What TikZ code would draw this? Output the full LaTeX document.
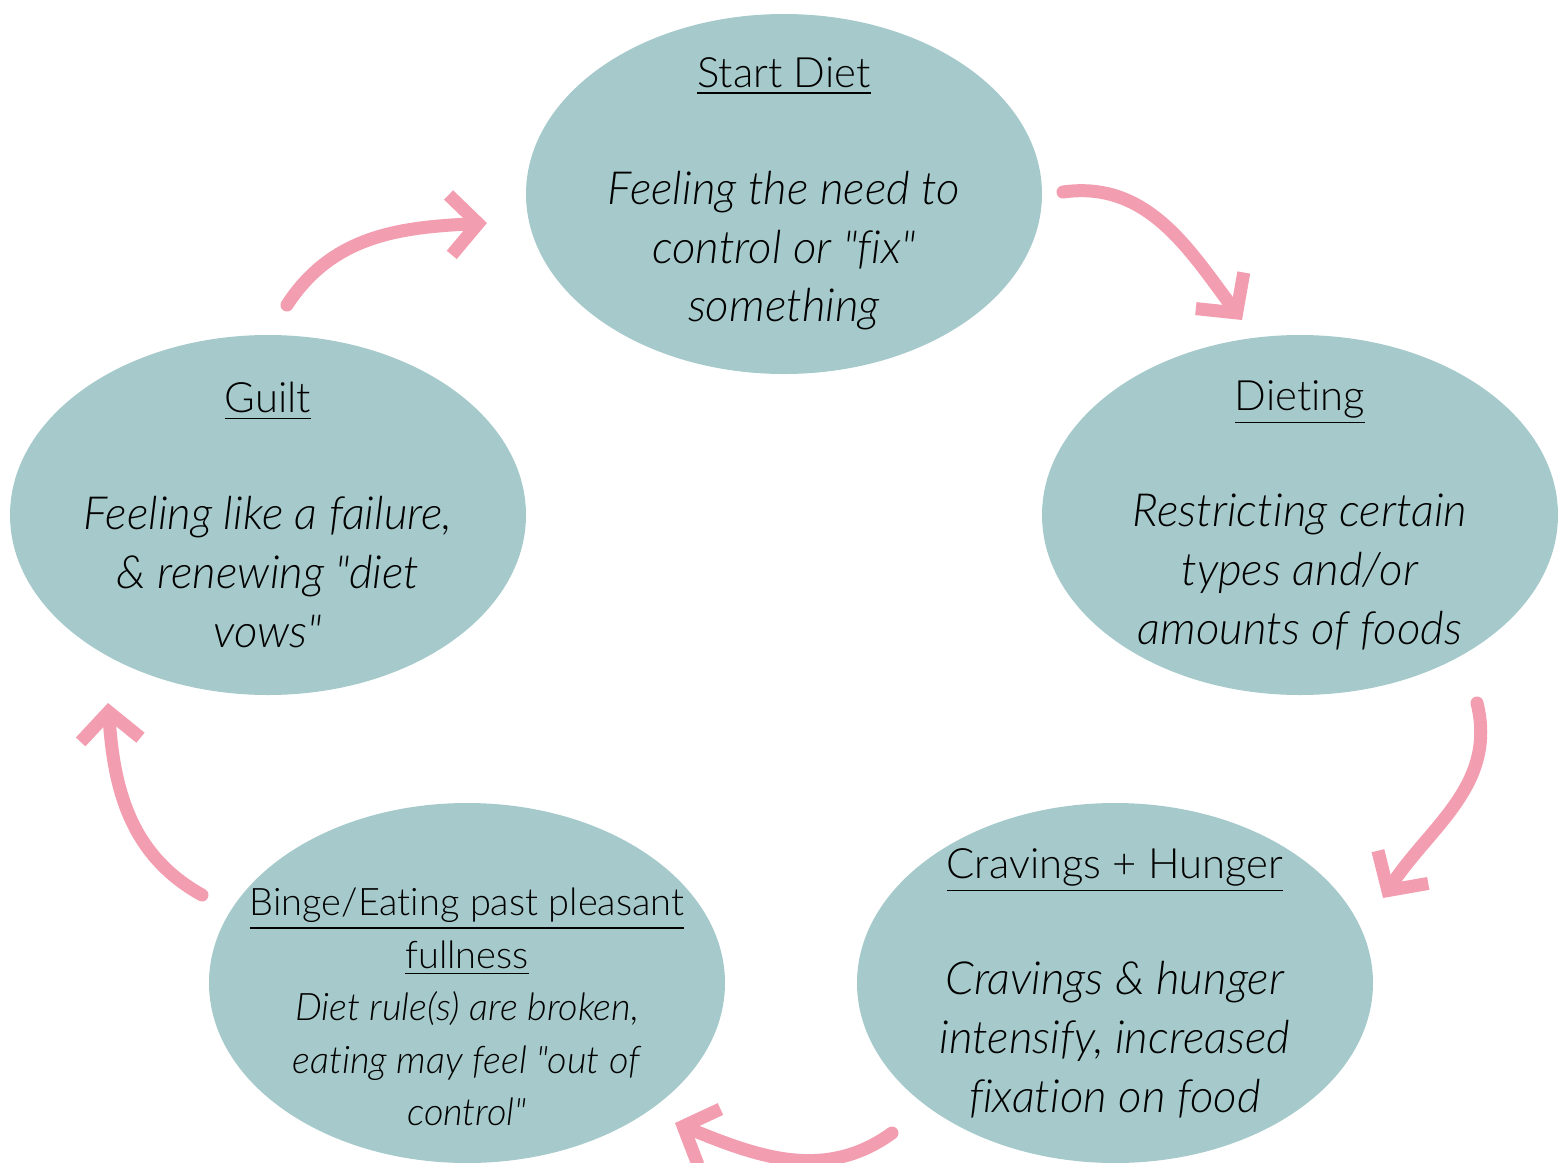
\documentclass[tikz,border=0pt]{standalone}
\usepackage{fontspec}
\setmainfont{Lato}[UprightFont=* Light, ItalicFont=* Light Italic, Ligatures={TeXOff,NoCommon}]
\usetikzlibrary{shapes.geometric,arrows.meta}
\definecolor{stagefill}{HTML}{A6CACB}
\definecolor{cyclepink}{HTML}{F29DB0}
\newcommand{\headfont}{\fontsize{11.9}{16.7}\selectfont}
\begin{document}
\begin{tikzpicture}[>=latex,
    stage/.style={ellipse, fill=stagefill, minimum width=5.16cm, minimum height=3.6cm, inner sep=0pt, outer sep=0pt},
    stagetext/.style={align=center, font=\fontsize{13}{16.7}\selectfont},
    bingetext/.style={align=center, font=\fontsize{10.8}{14.9}\selectfont},
    flow/.style={draw=cyclepink, line width=1.3mm, line cap=round, -{Straight Barb[length=2.8mm,width=6mm]}}]

            % Rahmen
            \useasboundingbox (0,0) rectangle (15.64,-11.63);

            % Ellipsen
            \node[stage] (start) at (7.84,-1.94) {};
            \node[stage] (diet) at (13.00,-5.15) {};
            \node[stage] (crave) at (11.15,-9.83) {};
            \node[stage] (binge) at (4.67,-9.83) {};
            \node[stage] (guilt) at (2.68,-5.15) {};

            % Texte
            \node[stagetext] (startt) at (start.center)
            {{\headfont\underline{Start Diet}}\\[0.58cm] \textit{Feeling the need to}\\ \textit{control or "fix"}\\ \textit{something}};
            \node[stagetext] (dietdt) at (diet.center)
            {{\headfont\underline{Dieting}}\\[0.58cm] \textit{Restricting certain}\\ \textit{types and/or}\\ \textit{amounts of foods}};
            \node[stagetext] (cravet) at (crave.center)
            {{\headfont\underline{Cravings + Hunger}}\\[0.58cm] \textit{Cravings \& hunger}\\ \textit{intensify, increased}\\ \textit{fixation on food}};
            \node[bingetext] (binget) at ([yshift=-0.24cm]binge.center)
            {\underline{Binge/Eating past pleasant}\\ \underline{fullness}\\ \textit{Diet rule(s) are broken,}\\ \textit{eating may feel "out of}\\ \textit{control"}};
            \node[stagetext] (guiltt) at (guilt.center)
            {{\headfont\underline{Guilt}}\\[0.58cm] \textit{Feeling like a failure,}\\ \textit{\& renewing "diet}\\ \textit{vows"}};

            % Pfeile im Kreis
            \draw[flow] ([shift={(2.79,0.02)}]start.center) to[out=8,in=127] ([shift={(-0.58,1.95)}]diet.center);
            \draw[flow] ([shift={(1.77,-1.88)}]diet.center) to[out=-76,in=57] ([shift={(2.68,0.85)}]crave.center);
            \draw[flow] ([shift={(-2.23,-1.50)}]crave.center) to[out=216,in=-22] ([shift={(2.08,-1.40)}]binge.center);
            \draw[flow] ([shift={(-2.65,0.88)}]binge.center) to[out=151,in=-86] ([shift={(-1.60,-1.88)}]guilt.center);
            \draw[flow] ([shift={(0.19,2.10)}]guilt.center) to[out=57,in=183] ([shift={(-2.97,-0.29)}]start.center);

\end{tikzpicture}
\end{document}
